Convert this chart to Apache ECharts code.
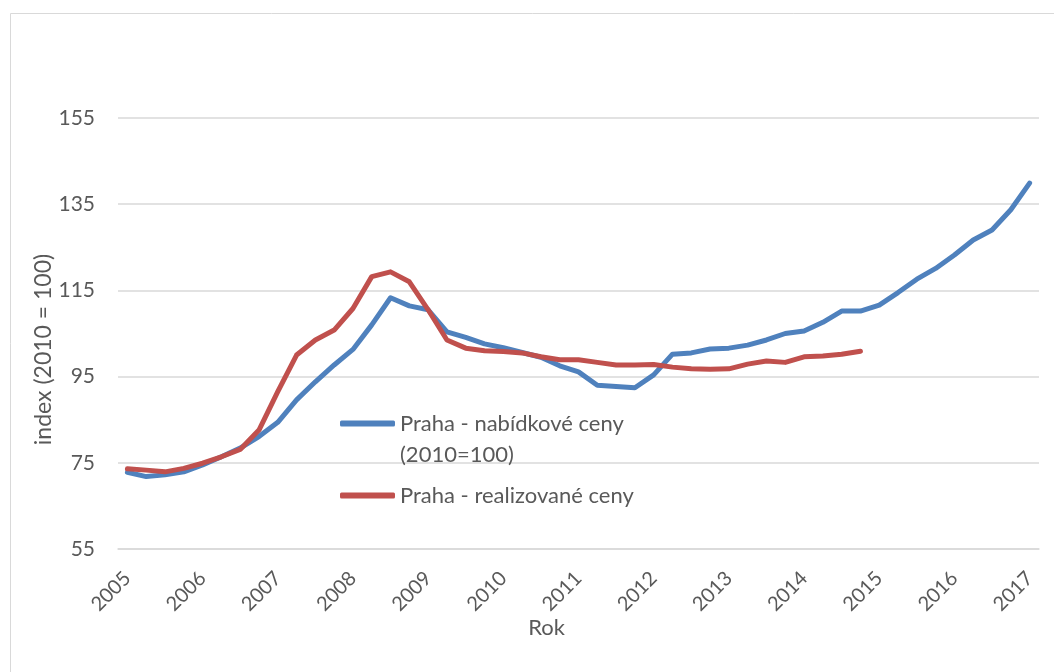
<!DOCTYPE html>
<html>
<head>
<meta charset="utf-8">
<script src="https://cdn.jsdelivr.net/npm/echarts@6/dist/echarts.min.js"></script>
<style>
  html, body { margin: 0; padding: 0; background: #fff; }
  #chart { width: 1054px; height: 672px; }
</style>
</head>
<body>
<div id="chart"></div>
<script>
// Quarterly index values, 2005 Q1 .. 2017 Q1
const years = ["2005", "2006", "2007", "2008", "2009", "2010", "2011", "2012", "2013", "2014", "2015", "2016", "2017"];
const quarters = ["Q1", "Q2", "Q3", "Q4"];

const offerPrices = [
  72.8, 71.8, 72.2, 72.9, 74.5, 76.4, 78.4, 81.1,
  84.4, 89.6, 93.8, 97.7, 101.3, 107.0, 113.3, 111.4,
  110.5, 105.4, 104.1, 102.6, 101.7, 100.6, 99.5, 97.5,
  96.1, 93.0, 92.7, 92.4, 95.4, 100.2, 100.5, 101.4,
  101.6, 102.3, 103.5, 105.0, 105.6, 107.6, 110.2, 110.2,
  111.6, 114.5, 117.6, 120.1, 123.2, 126.7, 129.0, 133.7,
  139.9
];

const realizedPrices = [
  73.6, 73.3, 72.9, 73.7, 74.9, 76.4, 78.1, 82.6,
  91.5, 100.0, 103.5, 105.8, 110.8, 118.2, 119.3, 117.0,
  110.5, 103.5, 101.6, 101.0, 100.8, 100.5, 99.6, 98.9,
  98.9, 98.3, 97.7, 97.7, 97.8, 97.2, 96.8, 96.7,
  96.8, 97.9, 98.6, 98.3, 99.6, 99.8, 100.2, 100.9
];

const seriesNames = ["Praha - nabídkové ceny\n(2010=100)", "Praha - realizované ceny"];
const yTicks = { min: 55, max: 155, interval: 20 };

// 2005 Q1 .. 2017 Q1 as categories
const categories = [];
years.forEach((y) => quarters.forEach((q) => categories.push(y + " " + q)));
categories.length = offerPrices.length;

const font = "Lato";
const textColor = "#595959";
const gridColor = "#d9d9d9";

const legendBase = {
  left: 340,
  padding: 0,
  itemWidth: 55,
  itemHeight: 6,
  icon: "roundRect",
  // A leading empty line keeps the icon level with the first line of a wrapped name
  formatter: (name) => (name.includes("\n") ? "\n" + name : name),
  textStyle: { fontFamily: font, fontSize: 22, color: textColor, lineHeight: 31 },
};

const chart = echarts.init(document.getElementById("chart"), null, { renderer: "canvas" });

chart.setOption({
  animation: false,
  textStyle: { fontFamily: font },
  graphic: [
    {
      type: "rect",
      left: 8,
      top: 11,
      shape: { width: 1100, height: 700 },
      style: { fill: "none", stroke: gridColor, lineWidth: 1 },
      silent: true,
    },
  ],
  grid: { left: 118, right: 15, top: 118, bottom: 123, outerBoundsMode: "none" },
  legend: [
    Object.assign({}, legendBase, { data: [seriesNames[0]], top: 377 }),
    Object.assign({}, legendBase, { data: [seriesNames[1]], top: 480 }),
  ],
  xAxis: {
    type: "category",
    data: categories,
    boundaryGap: true,
    name: "Rok",
    nameLocation: "middle",
    nameGap: 68,
    nameMoveOverlap: false,
    nameTextStyle: { fontFamily: font, fontSize: 22, color: textColor, padding: [0, 64, 0, 0] },
    axisLine: { show: true, lineStyle: { color: gridColor, width: 1.5 } },
    axisTick: { show: false },
    axisLabel: {
      interval: 3,
      rotate: 45,
      margin: 26,
      fontFamily: font,
      fontSize: 20,
      color: textColor,
      formatter: (v) => v.split(" ")[0],
    },
    splitLine: { show: false },
  },
  yAxis: {
    type: "value",
    min: yTicks.min,
    max: yTicks.max,
    interval: yTicks.interval,
    name: "index (2010 = 100)",
    nameLocation: "middle",
    nameGap: 63,
    nameMoveOverlap: false,
    nameTextStyle: { fontFamily: font, fontSize: 23, color: textColor, padding: [0, 32, 0, 0] },
    axisLine: { show: false },
    axisTick: { show: false },
    axisLabel: { margin: 23, fontFamily: font, fontSize: 21, color: textColor },
    splitLine: { show: true, lineStyle: { color: gridColor, width: 1.5 } },
  },
  series: [
    {
      name: seriesNames[0],
      type: "line",
      data: offerPrices,
      symbol: "none",
      color: "#4f81bd",
      lineStyle: { width: 5, cap: "round", join: "round" },
      z: 3,
    },
    {
      name: seriesNames[1],
      type: "line",
      data: realizedPrices,
      symbol: "none",
      color: "#c0504d",
      lineStyle: { width: 5, cap: "round", join: "round" },
      z: 4,
    },
  ],
});
</script>
</body>
</html>
